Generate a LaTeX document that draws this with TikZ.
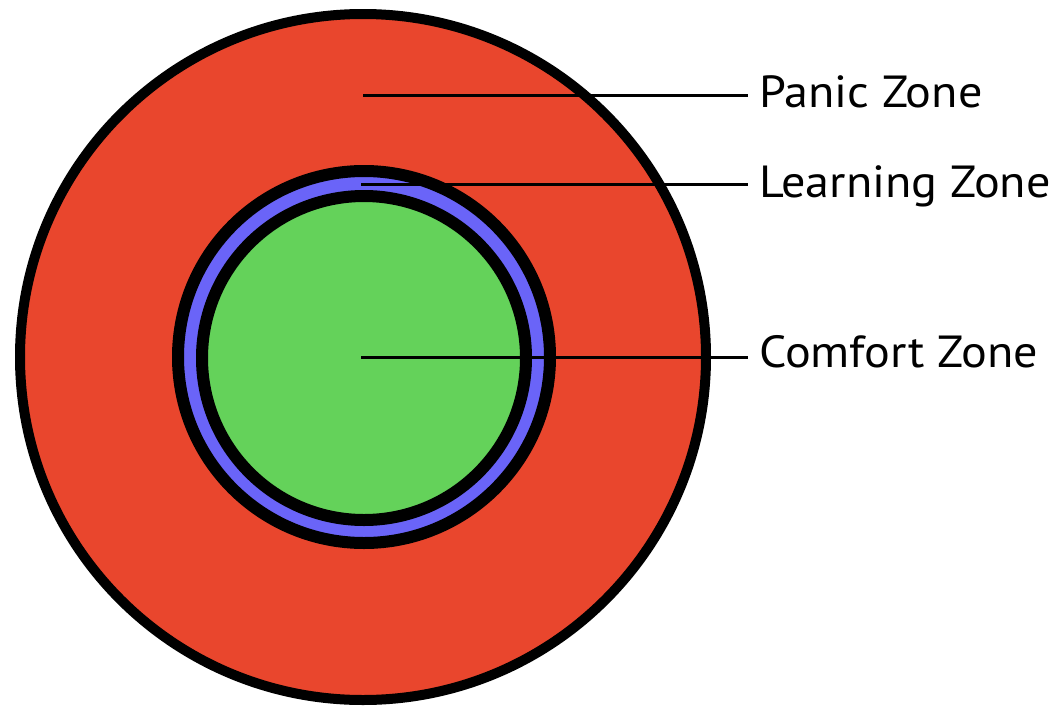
\documentclass[tikz,border=0pt]{standalone}
\usepackage{fontspec}
\setmainfont{PT Sans}
\definecolor{panicred}{RGB}{233,70,45}
\definecolor{learnblue}{RGB}{106,100,248}
\definecolor{comfortgreen}{RGB}{100,210,90}
\begin{document}
\begin{tikzpicture}[x=1pt,y=-1pt,
  ring/.style={draw=black},
  leader/.style={draw=black,line width=3pt},
  zonelabel/.style={anchor=base west,inner sep=0pt,xscale=1.07,font=\fontsize{45}{50}\selectfont}]
\useasboundingbox (0,0) rectangle (1055,707);
\fill[white] (0,0) rectangle (1055,707);
% circles
\draw[ring,fill=panicred,line width=10pt] (363,357) circle[radius=343];
\draw[ring,fill=learnblue,line width=12pt] (364,357) circle[radius=186];
\draw[ring,fill=comfortgreen,line width=12pt] (364,358) circle[radius=162];
% anchor points
\coordinate (pp) at (363,95);
\coordinate (lp) at (361,184);
\coordinate (cp) at (361,357);
% labels
\node[zonelabel] (panic) at (759,107) {Panic Zone};
\node[zonelabel] (learn) at (759,197) {Learning Zone};
\node[zonelabel] (comfort) at (759,367) {Comfort Zone};
% leaders
\draw[leader] (pp) -- ([xshift=-11pt]pp -| panic.west);
\draw[leader] (lp) -- ([xshift=-11pt]lp -| learn.west);
\draw[leader] (cp) -- ([xshift=-11pt]cp -| comfort.west);
\end{tikzpicture}
\end{document}
